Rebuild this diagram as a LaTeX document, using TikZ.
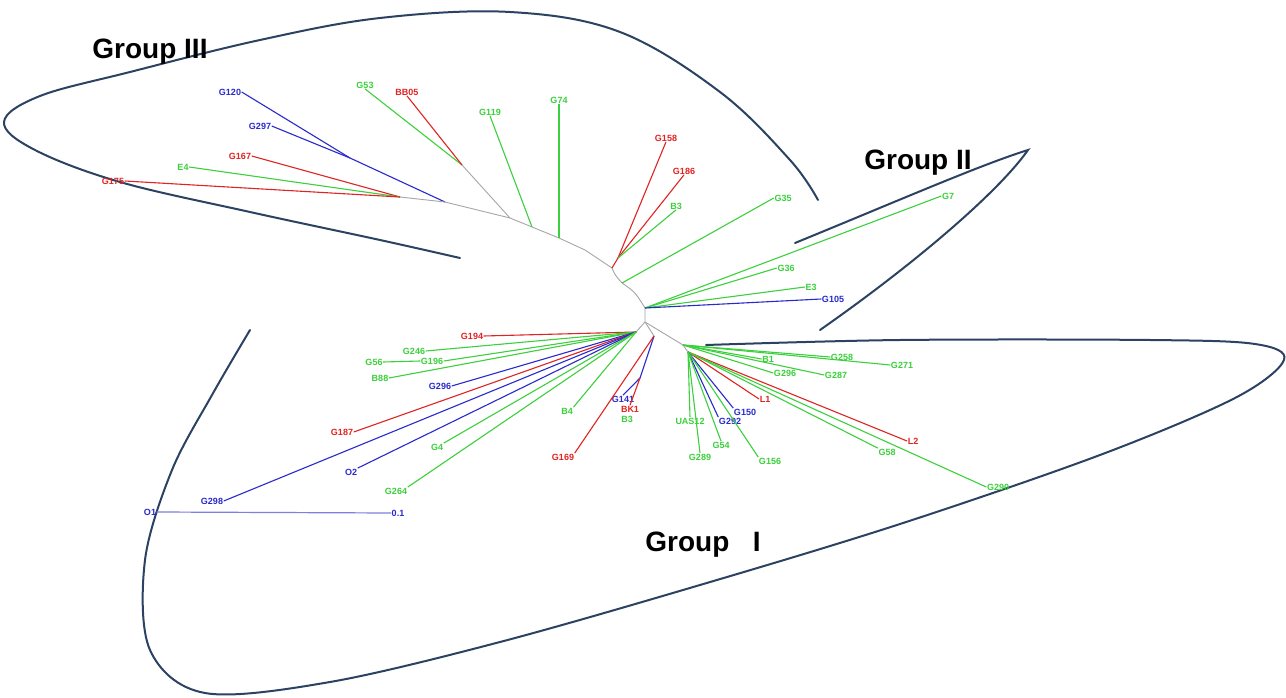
\documentclass[tikz,border=0pt]{standalone}
\usepackage{fontspec}
\setmainfont{Liberation Sans}
\begin{document}
\begin{tikzpicture}[x=1pt,y=-1pt,
  lab/.style={inner sep=0.5pt,font=\fontsize{9}{9}\selectfont\bfseries},
  lg/.style={lab,text=grn},
  lr/.style={lab,text=rd},
  lb/.style={lab,text=bl},
  bg/.style={draw=grn,line width=1.1pt},
  br/.style={draw=rd,line width=1.1pt},
  bb/.style={draw=bl,line width=1.1pt},
  bk/.style={draw=gray!70,line width=0.9pt},
  grp/.style={draw=navy,line width=2pt,line cap=round},
  grplab/.style={font=\fontsize{28}{28}\selectfont\bfseries,text=black,inner sep=0pt}]
\definecolor{grn}{HTML}{3CD03C}
\definecolor{rd}{HTML}{E02424}
\definecolor{bl}{HTML}{2A2ACC}
\definecolor{navy}{HTML}{2C4262}
\useasboundingbox (0,0) rectangle (1286,698);
\fill[white] (0,0) rectangle (1286,698);

% ---------- group outlines ----------
\draw[grp] plot[smooth,tension=0.6] coordinates {(460,258) (380,240) (250,212) (120,182) (35,150) (4,122) (40,96) (130,72) (260,40) (380,18) (510,12) (620,32) (720,92) (790,160) (818,200)};
\draw[grp] (795,243) .. controls (900,200) and (980,165) .. (1028,150) .. controls (1000,190) and (920,260) .. (820,330);
\draw[grp] plot[smooth,tension=0.55] coordinates {(250,330) (212,395) (172,470) (145,560) (150,650) (205,693) (330,682) (500,642) (700,585) (900,524) (1100,455) (1235,398) (1284,360) (1255,344) (1150,340) (900,340) (706,345)};

\node[grplab] (g3) at (150,52) {Group III};
\node[grplab] (g2) at (918,163) {Group II};
\node[grplab] (g1) at (703,545) {Group\ \ \ I};

% ---------- internal coordinates ----------
\coordinate (c0) at (645,322);
\coordinate (n2) at (645,308);
\coordinate (n3) at (622,283);
\coordinate (nA) at (612,268);
\coordinate (nA2) at (618,258);
\coordinate (b1) at (585,250);
\coordinate (b74) at (559,238);
\coordinate (b119) at (532,227);
\coordinate (b53) at (510,218);
\coordinate (b3) at (445,202);
\coordinate (s120) at (350,158);
\coordinate (s175) at (400,197);
\coordinate (s53) at (462,165);
\coordinate (nL) at (636,332);
\coordinate (nL2) at (654,336);
\coordinate (s141) at (640,378);
\coordinate (nR) at (683,345);
\coordinate (nR2) at (688,352);

% backbone
\draw[bk] (nR) -- (c0) -- (n2) .. controls (635,292) .. (n3) .. controls (615,275) .. (nA) -- (b1) -- (b74) -- (b119) -- (b53) -- (b3);
\draw[bk] (c0) -- (nL);
\draw[bk] (c0) -- (nL2);
\draw[bk] (nR) -- (nR2);

% ---------- Group III leaves ----------
\node[lb] (G120) at (230,92) {G120};
\node[lb] (G297) at (260,126) {G297};
\node[lr] (G167) at (240,156) {G167};
\node[lg] (E4) at (183,167) {E4};
\node[lr] (G175) at (113,181) {G175};
\node[lg] (G53) at (365,85) {G53};
\node[lr] (BB05) at (407,92) {BB05};
\node[lg] (G119) at (490,112) {G119};
\node[lg] (G74) at (559,100) {G74};
\node[lr] (G158) at (666,138) {G158};
\node[lr] (G186) at (684,171) {G186};
\node[lg] (B3) at (676,206) {B3};
\node[lg] (G35) at (783,198) {G35};

\draw[bb] (G120.east) -- (s120);
\draw[bb] (G297.east) -- (s120);
\draw[bb] (s120) -- (b3);
\draw[br] (G167.east) -- (s175);
\draw[bg] (E4.east) -- (s175);
\draw[br] (G175.east) -- (s175);
\draw[bk] (s175) -- (b3);
\draw[bg] (G53.south) -- (s53);
\draw[br] (BB05.south) -- (s53);
\draw[bk] (s53) -- (b53);
\draw[bg] (G119.south) -- (b119);
\draw[bg] (G74.south) -- (b74);
\draw[br] (G158.south) -- (nA2);
\draw[br] (G186.south) -- (nA2);
\draw[bg] (B3.south) -- (nA2);
\draw[br] (nA2) -- (nA);
\draw[bg] (G35.west) -- (n3);

% ---------- Group II leaves ----------
\node[lg] (G7) at (948,196) {G7};
\node[lg] (G36) at (786,268) {G36};
\node[lg] (E3) at (811,287) {E3};
\node[lb] (G105) at (833,299) {G105};
\draw[bg] (G7.west) -- (n2);
\draw[bg] (G36.west) -- (n2);
\draw[bg] (E3.west) -- (n2);
\draw[bb] (G105.west) -- (n2);

% ---------- Group I, lower left ----------
\node[lr] (G194) at (472,336) {G194};
\node[lg] (G246) at (414,351) {G246};
\node[lg] (G56) at (374,362) {G56};
\node[lg] (G196) at (432,361) {G196};
\node[lg] (B88) at (380,378) {B88};
\node[lb] (G296) at (440,386) {G296};
\node[lr] (G187) at (342,432) {G187};
\node[lb] (G298) at (212,501) {G298};
\node[lb] (O2) at (351,472) {O2};
\node[lg] (G4) at (437,447) {G4};
\node[lg] (G264) at (396,491) {G264};
\node[lg] (B4) at (567,411) {B4};
\node[lb] (G141) at (623,399) {G141};
\node[lr] (BK1) at (630,409) {BK1};
\node[lg] (B3b) at (627,419) {B3};
\node[lr] (G169) at (563,457) {G169};

\draw[br] (G194.east) -- (nL);
\draw[bg] (G246.east) -- (nL);
\draw[bg] (G56.east) -- (G196.west);
\draw[bg] (G196.east) -- (nL);
\draw[bg] (B88.east) -- (nL);
\draw[bb] (G296.east) -- (nL);
\draw[br] (G187.east) -- (nL);
\draw[bb] (G298.east) -- (nL);
\draw[bb] (O2.north east) -- (nL);
\draw[bg] (G4.north east) -- (nL);
\draw[bg] (G264.north east) -- (nL);
\draw[bg] (B4.north east) -- (nL);
\draw[bb] (s141) -- (nL2);
\draw[bb] (G141.north) -- (s141);
\draw[br] (BK1.north) -- (s141);
\draw[br] (G169.north east) -- (nL2);

% scale bar
\node[lb] (O1) at (150,512) {O1};
\node[lb] (sc) at (398,513) {0.1};
\draw[draw=bl!60,line width=1.2pt] (O1.east) -- (sc.west);

% ---------- Group I, lower right ----------
\node[lg] (B1) at (768,359) {B1};
\node[lg] (G258) at (842,357) {G258};
\node[lg] (G271) at (902,365) {G271};
\node[lg] (G296b) at (785,373) {G296};
\node[lg] (G287) at (836,375) {G287};
\node[lr] (L1) at (765,399) {L1};
\node[lr] (L2) at (913,441) {L2};
\node[lg] (G58) at (887,452) {G58};
\node[lg] (G29) at (998,487) {G290};
\node[lb] (G150) at (745,412) {G150};
\node[lb] (G292) at (730,421) {G292};
\node[lg] (UAS) at (690,421) {UAS12};
\node[lg] (G54) at (721,445) {G54};
\node[lg] (G289) at (700,457) {G289};
\node[lg] (G156) at (770,461) {G156};

\draw[bg] (B1.west) -- (nR);
\draw[bg] (G258.west) -- (nR);
\draw[bg] (G271.west) -- (nR);
\draw[bg] (G296b.west) -- (nR);
\draw[bg] (G287.west) -- (nR);
\draw[br] (L1.west) -- (nR2);
\draw[br] (L2.west) -- (nR2);
\draw[bg] (G58.north west) -- (nR2);
\draw[bg] (G29.west) -- (nR2);
\draw[bb] (G150.north west) -- (nR2);
\draw[bb] (G292.north west) -- (nR2);
\draw[bg] (UAS.north) -- (nR2);
\draw[bg] (G54.north) -- (nR2);
\draw[bg] (G289.north) -- (nR2);
\draw[bg] (G156.north west) -- (nR2);
\end{tikzpicture}
\end{document}
